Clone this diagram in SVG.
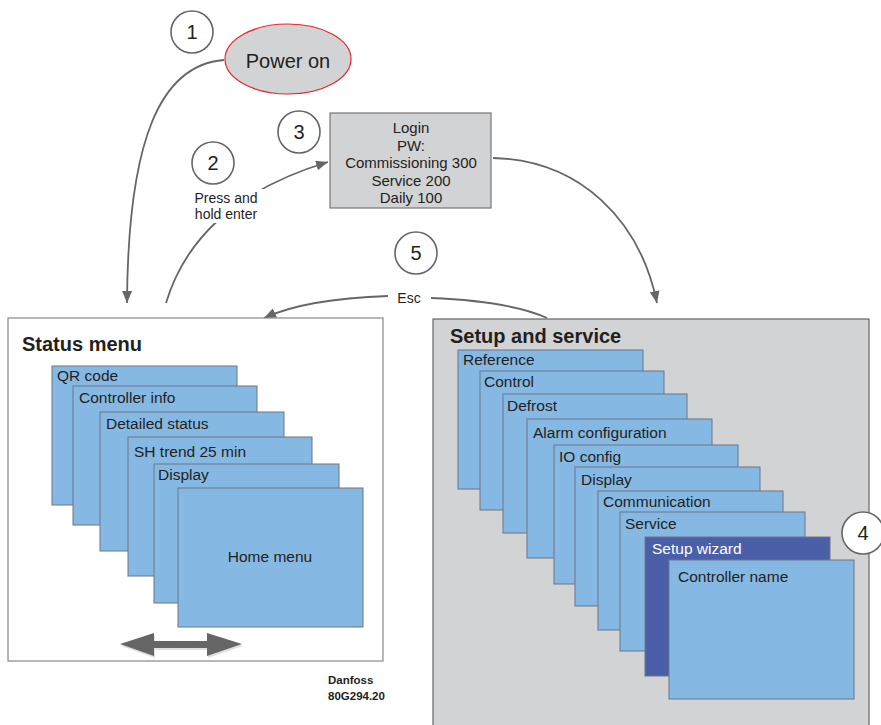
<svg xmlns="http://www.w3.org/2000/svg" width="881" height="725" viewBox="0 0 881 725">
<defs>
<marker id="ah" viewBox="0 0 12 10" refX="12" refY="5" markerWidth="12" markerHeight="10" markerUnits="userSpaceOnUse" orient="auto">
<path d="M0,0 L12,5 L0,10 z" fill="#666"/>
</marker>
</defs>
<style>
text{font-family:"Liberation Sans",Arial,sans-serif;fill:#231f20}
.card{fill:#86b8e4;stroke:#6d7785;stroke-width:1}
.ct{font-size:15.5px}
.num{font-size:20px;text-anchor:middle}
.circ{fill:#fff;stroke:#666;stroke-width:1.6}
.con{fill:none;stroke:#666;stroke-width:1.8}
.title{font-size:20px;font-weight:bold}
</style>
<rect width="881" height="725" fill="#fff"/>

<g id="connectors">
<path class="con" d="M224,60 C160,65 128,140 127,303" marker-end="url(#ah)"/>
<path class="con" d="M166,303 C185,240 235,190 328,162" marker-end="url(#ah)"/>
<rect x="190" y="189" width="74" height="34" fill="#fff"/>
<path class="con" d="M493,158 C580,160 640,220 657,303" marker-end="url(#ah)"/>
<path class="con" d="M388,296 C330,298 290,306 264,318" marker-end="url(#ah)"/>
<path class="con" d="M431,298 C480,300 520,306 547,318"/>
</g>

<g id="label-press">
<text x="226" y="203" font-size="14" text-anchor="middle">Press and</text>
<text x="226" y="219" font-size="14" text-anchor="middle">hold enter</text>
</g>
<g id="label-esc"><text x="409" y="303" font-size="14" text-anchor="middle">Esc</text></g>

<g id="step1"><circle class="circ" cx="192" cy="32" r="21"/><text class="num" x="192" y="39">1</text></g>
<g id="step2"><circle class="circ" cx="213" cy="163" r="21"/><text class="num" x="213" y="170">2</text></g>
<g id="step3"><circle class="circ" cx="299" cy="132" r="21"/><text class="num" x="299" y="139">3</text></g>
<g id="step5"><circle class="circ" cx="416" cy="253" r="21"/><text class="num" x="416" y="260">5</text></g>

<g id="power-on">
<ellipse cx="288" cy="59" rx="63" ry="35" fill="#d1d3d4" stroke="#e8252e" stroke-width="1.2"/>
<text x="288" y="68" font-size="20" text-anchor="middle">Power on</text>
</g>

<g id="login">
<rect x="330" y="113" width="161" height="95" fill="#d1d3d4" stroke="#777" stroke-width="1.2"/>
<g font-size="15" text-anchor="middle">
<text x="411" y="133">Login</text>
<text x="411" y="151">PW:</text>
<text x="411" y="168">Commissioning 300</text>
<text x="411" y="186">Service 200</text>
<text x="411" y="203">Daily 100</text>
</g>
</g>

<g id="status-menu">
<rect x="8" y="318" width="375" height="343" fill="#fff" stroke="#888" stroke-width="1.2"/>
<text class="title" x="22" y="351">Status menu</text>
<g id="s-qr"><rect class="card" x="52" y="366" width="185" height="139"/><text class="ct" x="57" y="381">QR code</text></g>
<g id="s-ctrl"><rect class="card" x="73" y="386" width="184" height="139"/><text class="ct" x="79" y="403">Controller info</text></g>
<g id="s-det"><rect class="card" x="100" y="412" width="184" height="139"/><text class="ct" x="106" y="429">Detailed status</text></g>
<g id="s-sh"><rect class="card" x="128" y="437" width="184" height="139"/><text class="ct" x="134" y="457">SH trend 25 min</text></g>
<g id="s-disp"><rect class="card" x="154" y="464" width="185" height="139"/><text class="ct" x="158" y="480">Display</text></g>
<g id="s-home"><rect class="card" x="178" y="488" width="185" height="139"/><text class="ct" x="270" y="562" text-anchor="middle">Home menu</text></g>
<g id="scroll-arrow">
<polygon points="121,646 155,635 155,642.5 208,642.5 208,635 243,646 208,658 208,650 155,650 155,658" fill="#ccc" opacity="0.6"/>
<polygon points="120,644 154,633 154,641 207,641 207,633 242,644 207,656 207,648 154,648 154,656" fill="#666"/>
</g>
</g>

<g id="danfoss">
<text x="328" y="684" font-size="11.5" font-weight="bold">Danfoss</text>
<text x="328" y="700" font-size="11.5" font-weight="bold">80G294.20</text>
</g>

<g id="setup-service">
<rect x="433" y="319" width="436" height="420" fill="#d1d3d4" stroke="#666" stroke-width="1.2"/>
<text class="title" x="450" y="343">Setup and service</text>
<g id="u-ref"><rect class="card" x="458" y="350" width="185" height="139"/><text class="ct" x="463" y="365">Reference</text></g>
<g id="u-ctrl"><rect class="card" x="480" y="371" width="184" height="139"/><text class="ct" x="484" y="387">Control</text></g>
<g id="u-def"><rect class="card" x="503" y="394" width="184" height="139"/><text class="ct" x="507" y="411">Defrost</text></g>
<g id="u-alarm"><rect class="card" x="527" y="419" width="185" height="139"/><text class="ct" x="533" y="438">Alarm configuration</text></g>
<g id="u-io"><rect class="card" x="554" y="445" width="184" height="139"/><text class="ct" x="559" y="462">IO config</text></g>
<g id="u-disp"><rect class="card" x="575" y="467" width="185" height="139"/><text class="ct" x="581" y="485">Display</text></g>
<g id="u-comm"><rect class="card" x="598" y="491" width="185" height="139"/><text class="ct" x="603" y="507">Communication</text></g>
<g id="u-serv"><rect class="card" x="620" y="512" width="185" height="139"/><text class="ct" x="625" y="529">Service</text></g>
<g id="u-wiz"><rect x="645" y="537" width="185" height="139" fill="#4b5fa9" stroke="#6d7785" stroke-width="1"/><text class="ct" x="652" y="554" style="fill:#fff">Setup wizard</text></g>
<g id="u-name"><rect class="card" x="669" y="560" width="185" height="139"/><text class="ct" x="678" y="582">Controller name</text></g>
</g>

<g id="step4"><circle class="circ" cx="863" cy="533" r="21"/><text class="num" x="863" y="540">4</text></g>
</svg>
